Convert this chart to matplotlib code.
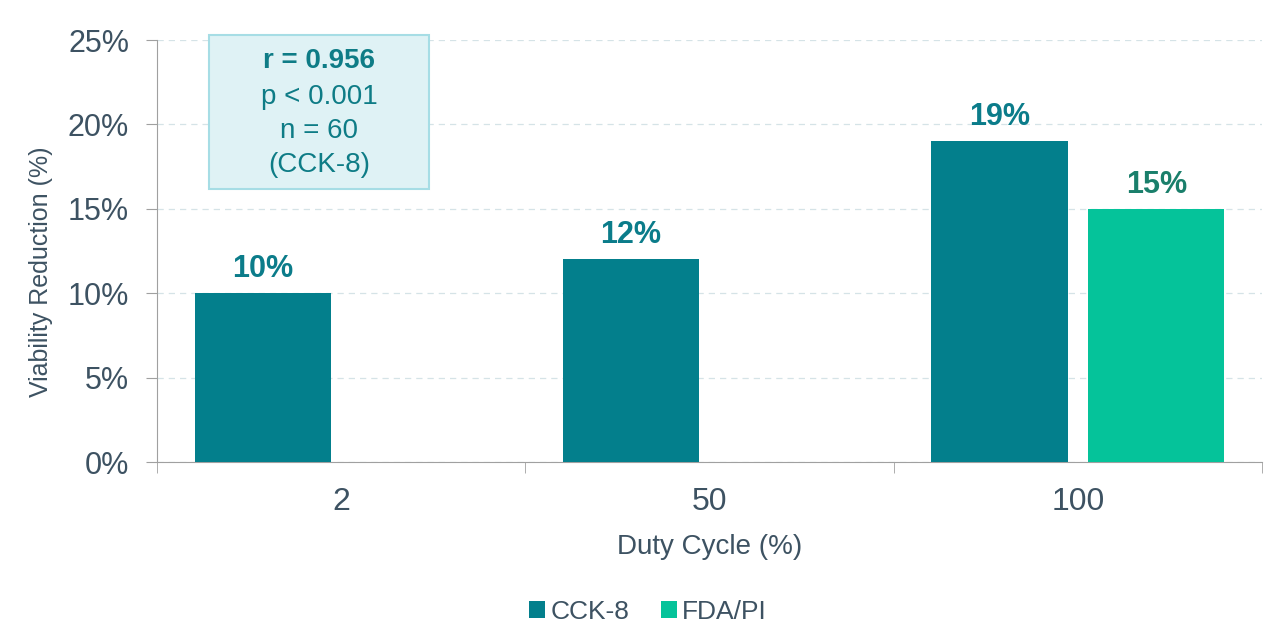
import numpy as np
import matplotlib.pyplot as plt
from matplotlib.ticker import FuncFormatter

plt.rcParams['font.family'] = ['Liberation Sans', 'DejaVu Sans']

duty_cycles = ['2', '50', '100']
cck8 = [10, 12, 19]
fdapi = [np.nan, np.nan, 15]
series_names = ['CCK-8', 'FDA/PI']

c_cck = '#037F8C'
c_fda = '#05C39A'
txt = '#3D5262'

fig = plt.figure(figsize=(12.83, 6.29), dpi=100)
ax = fig.add_axes([157/1283, 1-462/629, (1262-157)/1283, (462-40)/629])

x = np.arange(len(duty_cycles))
w = 0.37
off = 0.213
b1 = ax.bar(x-off, cck8, w, color=c_cck, label=series_names[0], zorder=3)
b2 = ax.bar(x+off, fdapi, w, color=c_fda, label=series_names[1], zorder=3)

for xi, v in zip(x, cck8):
    ax.text(xi-off, v+0.55, f'{v:.0f}%', ha='center', va='bottom', fontsize=22,
            fontweight='bold', color='#0B7C8A')
for xi, v in zip(x, fdapi):
    if not np.isnan(v):
        ax.text(xi+off, v+0.55, f'{v:.0f}%', ha='center', va='bottom', fontsize=22,
                fontweight='bold', color='#1A7F6B')

ax.set_xlim(-0.5, 2.5)
ax.set_ylim(0, 25)
ax.set_yticks(range(0, 26, 5))
ax.yaxis.set_major_formatter(FuncFormatter(lambda v, p: f'{v:.0f}%'))
ax.set_xticks(x)
ax.set_xticklabels(duty_cycles)
ax.set_xticks([-0.5, 0.5, 1.5, 2.5], minor=True)
ax.tick_params(axis='x', which='major', length=0, pad=18, labelsize=23, labelcolor=txt)
ax.tick_params(axis='x', which='minor', length=8, color='#A0A0A0', direction='out')
ax.tick_params(axis='y', length=8, color='#A0A0A0', labelsize=22, labelcolor=txt, pad=12)

ax.grid(axis='y', color='#D5E3E7', linestyle=(0, (5, 4)), linewidth=0.9, zorder=0)
for s in ['top', 'right']:
    ax.spines[s].set_visible(False)
ax.spines['left'].set_color('#A0A0A0')
ax.spines['bottom'].set_color('#A0A0A0')

ax.set_xlabel('Duty Cycle (%)', fontsize=20, color=txt, labelpad=12)
ax.set_ylabel('Viability Reduction (%)', fontsize=18, color=txt)
ax.yaxis.set_label_coords(-0.094, 0.45)

# stats box
bx0, bx1 = 209/1283, 429/1283
by0, by1 = 1-189/629, 1-35/629
fig.patches.append(plt.Rectangle((bx0, by0), bx1-bx0, by1-by0, transform=fig.transFigure,
                                 facecolor='#DFF2F5', edgecolor='#A6DDE5', linewidth=1.5, zorder=5))
cx = (bx0+bx1)/2
fig.text(cx, 1-61/629, 'r = 0.956', ha='center', va='center', fontsize=20,
         fontweight='bold', color='#0E7C86', zorder=6)
fig.text(cx, 1-97/629, 'p < 0.001', ha='center', va='center', fontsize=20, color='#0E7C86', zorder=6)
fig.text(cx, 1-131/629, 'n = 60', ha='center', va='center', fontsize=20, color='#0E7C86', zorder=6)
fig.text(cx, 1-165/629, '(CCK-8)', ha='center', va='center', fontsize=20, color='#0E7C86', zorder=6)

leg = fig.legend(handles=[b1, b2], loc='center', bbox_to_anchor=(0.505, 1-612/629), ncol=2,
                 frameon=False, fontsize=19, handlelength=0.6, handleheight=0.6,
                 handletextpad=0.2, columnspacing=1.2)
for t in leg.get_texts():
    t.set_color(txt)

fig.savefig('out.png', dpi=100)
